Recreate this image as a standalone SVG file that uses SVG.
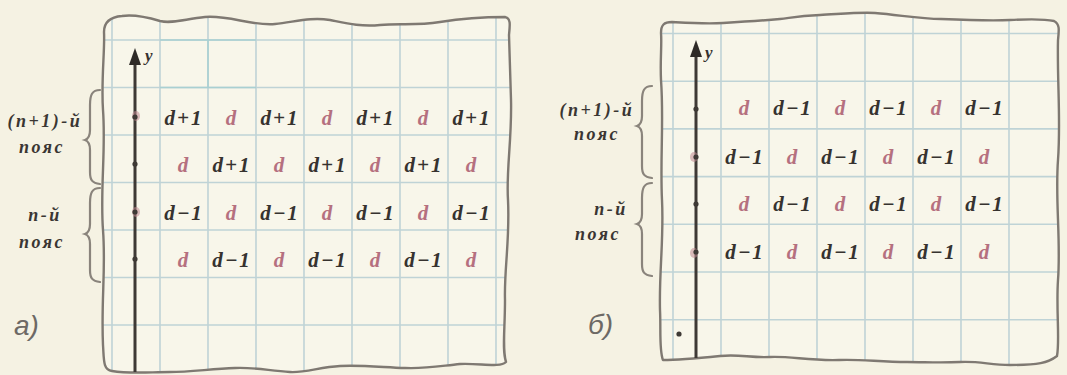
<svg xmlns="http://www.w3.org/2000/svg" width="1067" height="375" viewBox="0 0 1067 375">
<style>
.bg{fill:#f5f2e3}
.panel{fill:#f8f6ea}
.border{fill:none;stroke:#7f7972;stroke-width:2.4;stroke-linejoin:round}
.grid{stroke:#bfd3d6;stroke-width:1.6}
.gridc{stroke:#a9d0d2;stroke-width:1.6}
.axis{stroke:#3e3935;stroke-width:3;fill:none}
.head{fill:#2e2a27}
.dot{fill:#3e3935}
.smudge{fill:#c08890;opacity:0.55}
.brace{fill:none;stroke:#8a847c;stroke-width:2.2;stroke-linecap:round}
.v{font-family:"Liberation Serif",serif;font-style:italic;font-weight:bold;font-size:21px;letter-spacing:2px;text-anchor:middle}
.dk{fill:#36322f}
.pk{fill:#b5707f}
.lab{font-family:"Liberation Serif",serif;font-style:italic;font-weight:bold;font-size:18px;letter-spacing:2.5px;fill:#3a3633;text-anchor:middle}
.ax{font-family:"Liberation Serif",serif;font-style:italic;font-weight:bold;font-size:17px;fill:#36322f}
.tag{font-family:"Liberation Sans",sans-serif;font-style:italic;font-size:28px;fill:#6d6965}
</style>
<defs>
<clipPath id="clipA"><path id="shapeA" d="M104 32 C104 22 110 17 122 16 C135 14 150 18 160 21 C172 24 185 19 205 17 C230 15 250 26 275 24 C295 22 310 17 330 20 C345 23 360 27 380 25 C400 23 415 26 440 22 C465 18 490 17 505 17 C511 18 510 25 509 35 L511 100 C512 140 506 170 508 200 C510 240 504 270 505 300 C505 330 502 350 506 362 C500 368 480 363 460 364 C440 366 425 369 405 368 C380 367 360 365 340 366 C320 367 305 373 290 372 C270 371 255 367 235 368 C210 369 190 372 170 372 C150 372 130 374 112 371 C103 370 104 360 103 345 C101 300 106 270 103 230 C100 190 106 150 103 110 C101 80 105 50 104 32 Z"/></clipPath>
<clipPath id="clipB"><path id="shapeB" d="M661 33 C661 25 664 22 672 22 C690 23 705 24 723 23 C740 22 757 21 780 19 C790 18 797 16 820 15 C840 14 860 12 875 13 C900 15 920 19 941 19 C965 20 990 21 1010 20 C1030 19 1045 19 1054 21 C1060 24 1059 30 1058 40 C1057 80 1061 120 1058 160 C1055 200 1061 240 1058 280 C1056 310 1060 340 1057 356 C1048 363 1038 365 1010 365 C990 365 980 361 960 362 C940 363 925 362 907 362 C880 362 860 359 839 360 C810 361 790 356 770 357 C750 358 740 354 720 356 C700 358 680 360 663 360 C659 350 661 330 660 310 C659 270 664 240 662 200 C660 160 664 120 661 80 C660 60 662 45 661 33 Z"/></clipPath>
</defs>
<rect class="bg" x="0" y="0" width="1067" height="375"/>

<g id="panel-a">
<use href="#shapeA" class="panel"/>
<g clip-path="url(#clipA)">
<g class="grid">
<line x1="112" y1="0" x2="112" y2="375"/>
<line x1="160" y1="0" x2="160" y2="375"/>
<line x1="208" y1="0" x2="208" y2="375"/>
<line x1="256" y1="0" x2="256" y2="375"/>
<line x1="304" y1="0" x2="304" y2="375"/>
<line x1="352" y1="0" x2="352" y2="375"/>
<line x1="400" y1="0" x2="400" y2="375"/>
<line x1="448" y1="0" x2="448" y2="375"/>
<line x1="496" y1="0" x2="496" y2="375"/>
<line x1="100" y1="40" x2="515" y2="40"/>
<line x1="100" y1="87.5" x2="515" y2="87.5"/>
<line x1="100" y1="135" x2="515" y2="135"/>
<line x1="100" y1="182.5" x2="515" y2="182.5"/>
<line x1="100" y1="230" x2="515" y2="230"/>
<line x1="100" y1="277.5" x2="515" y2="277.5"/>
<line x1="100" y1="325" x2="515" y2="325"/>
</g>
<g class="gridc">
<line x1="160" y1="40" x2="256" y2="40"/>
<line x1="208" y1="40" x2="208" y2="87.5"/>
<line x1="160" y1="87.5" x2="256" y2="87.5"/>
</g>
</g>
<use href="#shapeA" class="border"/>
</g>

<g id="panel-b">
<use href="#shapeB" class="panel"/>
<g clip-path="url(#clipB)">
<g class="grid">
<line x1="673" y1="0" x2="673" y2="375"/>
<line x1="721" y1="0" x2="721" y2="375"/>
<line x1="769" y1="0" x2="769" y2="375"/>
<line x1="817" y1="0" x2="817" y2="375"/>
<line x1="865" y1="0" x2="865" y2="375"/>
<line x1="913" y1="0" x2="913" y2="375"/>
<line x1="961" y1="0" x2="961" y2="375"/>
<line x1="1009" y1="0" x2="1009" y2="375"/>
<line x1="655" y1="33.5" x2="1065" y2="33.5"/>
<line x1="655" y1="81.2" x2="1065" y2="81.2"/>
<line x1="655" y1="128.9" x2="1065" y2="128.9"/>
<line x1="655" y1="176.6" x2="1065" y2="176.6"/>
<line x1="655" y1="224.3" x2="1065" y2="224.3"/>
<line x1="655" y1="272" x2="1065" y2="272"/>
<line x1="655" y1="319.7" x2="1065" y2="319.7"/>
</g>
</g>
<use href="#shapeB" class="border"/>
</g>

<g id="axis-a">
<line class="axis" x1="135" y1="60" x2="135" y2="372"/>
<polygon class="head" points="135,48 141,65 129,65"/>
<text class="ax" x="145" y="61">y</text>
<ellipse class="smudge" cx="136" cy="116" rx="4" ry="5"/>
<ellipse class="smudge" cx="136" cy="212" rx="4" ry="5"/>
<circle class="dot" cx="135" cy="117" r="2.6"/>
<circle class="dot" cx="135" cy="164" r="2.6"/>
<circle class="dot" cx="135" cy="212" r="2.6"/>
<circle class="dot" cx="135" cy="259" r="2.6"/>
</g>

<g id="axis-b">
<line class="axis" x1="696" y1="52" x2="696" y2="358"/>
<polygon class="head" points="696,40 702,57 690,57"/>
<text class="ax" x="705" y="58">y</text>
<ellipse class="smudge" cx="694" cy="157" rx="4" ry="5"/>
<ellipse class="smudge" cx="694" cy="253" rx="4" ry="5"/>
<circle class="dot" cx="696" cy="109" r="2.6"/>
<circle class="dot" cx="696" cy="157" r="2.6"/>
<circle class="dot" cx="696" cy="204" r="2.6"/>
<circle class="dot" cx="696" cy="252" r="2.6"/>
<circle class="dot" cx="679" cy="334" r="2.6"/>
</g>

<g id="values-a" class="v">
<text class="dk" x="184" y="125">d+1</text>
<text class="pk" x="232" y="125">d</text>
<text class="dk" x="280" y="125">d+1</text>
<text class="pk" x="328" y="125">d</text>
<text class="dk" x="376" y="125">d+1</text>
<text class="pk" x="424" y="125">d</text>
<text class="dk" x="472" y="125">d+1</text>
<text class="pk" x="184" y="172">d</text>
<text class="dk" x="232" y="172">d+1</text>
<text class="pk" x="280" y="172">d</text>
<text class="dk" x="328" y="172">d+1</text>
<text class="pk" x="376" y="172">d</text>
<text class="dk" x="424" y="172">d+1</text>
<text class="pk" x="472" y="172">d</text>
<text class="dk" x="184" y="220">d−1</text>
<text class="pk" x="232" y="220">d</text>
<text class="dk" x="280" y="220">d−1</text>
<text class="pk" x="328" y="220">d</text>
<text class="dk" x="376" y="220">d−1</text>
<text class="pk" x="424" y="220">d</text>
<text class="dk" x="472" y="220">d−1</text>
<text class="pk" x="184" y="267">d</text>
<text class="dk" x="232" y="267">d−1</text>
<text class="pk" x="280" y="267">d</text>
<text class="dk" x="328" y="267">d−1</text>
<text class="pk" x="376" y="267">d</text>
<text class="dk" x="424" y="267">d−1</text>
<text class="pk" x="472" y="267">d</text>
</g>

<g id="values-b" class="v">
<text class="pk" x="745" y="115">d</text>
<text class="dk" x="793" y="115">d−1</text>
<text class="pk" x="841" y="115">d</text>
<text class="dk" x="889" y="115">d−1</text>
<text class="pk" x="937" y="115">d</text>
<text class="dk" x="985" y="115">d−1</text>
<text class="dk" x="745" y="163.5">d−1</text>
<text class="pk" x="793" y="163.5">d</text>
<text class="dk" x="841" y="163.5">d−1</text>
<text class="pk" x="889" y="163.5">d</text>
<text class="dk" x="937" y="163.5">d−1</text>
<text class="pk" x="985" y="163.5">d</text>
<text class="pk" x="745" y="211">d</text>
<text class="dk" x="793" y="211">d−1</text>
<text class="pk" x="841" y="211">d</text>
<text class="dk" x="889" y="211">d−1</text>
<text class="pk" x="937" y="211">d</text>
<text class="dk" x="985" y="211">d−1</text>
<text class="dk" x="745" y="258.5">d−1</text>
<text class="pk" x="793" y="258.5">d</text>
<text class="dk" x="841" y="258.5">d−1</text>
<text class="pk" x="889" y="258.5">d</text>
<text class="dk" x="937" y="258.5">d−1</text>
<text class="pk" x="985" y="258.5">d</text>
</g>

<g id="band-a-upper">
<path class="brace" d="M100 90 C92 90 90 95 90 105 L90 130 C90 137 88 139 85 140 C88 141 90 143 90 150 L90 172 C90 180 92 183 100 184"/>
<text class="lab" x="45" y="127">(n+1)-й</text>
<text class="lab" x="42" y="153">пояс</text>
</g>
<g id="band-a-lower">
<path class="brace" d="M100 188 C92 188 90 193 90 203 L90 224 C90 231 88 233 85 234 C88 235 90 237 90 244 L90 270 C90 278 92 281 100 282"/>
<text class="lab" x="45" y="221">n-й</text>
<text class="lab" x="42" y="248">пояс</text>
</g>
<g id="band-b-upper">
<path class="brace" d="M652 86 C644 86 642 91 642 101 L642 116 C642 123 640 125 637 126 C640 127 642 129 642 136 L642 166 C642 174 644 177 652 178"/>
<text class="lab" x="597" y="116">(n+1)-й</text>
<text class="lab" x="597" y="140">пояс</text>
</g>
<g id="band-b-lower">
<path class="brace" d="M652 183 C644 183 642 188 642 198 L642 214 C642 221 640 223 637 224 C640 225 642 227 642 234 L642 264 C642 272 644 275 652 276"/>
<text class="lab" x="611" y="215">n-й</text>
<text class="lab" x="598" y="240">пояс</text>
</g>

<text id="tag-a" class="tag" x="14" y="335">а)</text>
<text id="tag-b" class="tag" x="588" y="334">б)</text>
</svg>
